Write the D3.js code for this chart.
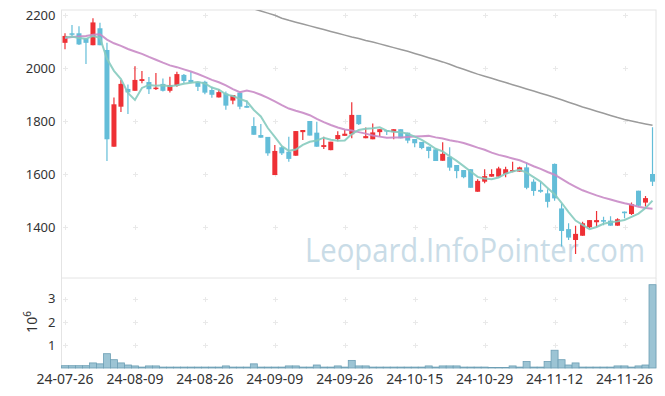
<!DOCTYPE html>
<html>
<head>
<meta charset="utf-8">
<script src="https://cdn.jsdelivr.net/npm/d3@7"></script>
<style>
body { margin: 0; background: #fff; }
svg { display: block; font-family: "Noto Sans", sans-serif; }
</style>
</head>
<body>
<svg id="chart" width="665" height="396"></svg>
<script>
const dates = [
  '24-07-26','24-07-29','24-07-30','24-07-31','24-08-01','24-08-02','24-08-05','24-08-06','24-08-07','24-08-08',
  '24-08-09','24-08-12','24-08-13','24-08-14','24-08-16','24-08-19','24-08-20','24-08-21','24-08-22','24-08-23',
  '24-08-26','24-08-27','24-08-28','24-08-29','24-08-30','24-09-02','24-09-03','24-09-04','24-09-05','24-09-06',
  '24-09-09','24-09-10','24-09-11','24-09-12','24-09-13','24-09-19','24-09-20','24-09-23','24-09-24','24-09-25',
  '24-09-26','24-09-27','24-09-30','24-10-02','24-10-04','24-10-07','24-10-08','24-10-10','24-10-11','24-10-14',
  '24-10-15','24-10-16','24-10-17','24-10-18','24-10-21','24-10-22','24-10-23','24-10-24','24-10-25','24-10-28',
  '24-10-29','24-10-30','24-10-31','24-11-01','24-11-04','24-11-05','24-11-06','24-11-07','24-11-08','24-11-11',
  '24-11-12','24-11-13','24-11-14','24-11-15','24-11-18','24-11-19','24-11-20','24-11-21','24-11-22','24-11-25',
  '24-11-26','24-11-27','24-11-28','24-11-29','24-12-02'
];
const open = [
  2095,2131,2131,2112,2086,2150,2068,1703,1854,1921, 1914,1951,1947,1922,1940,1914,1933,1974,1955,1948,
  1948,1917,1889,1904,1877,1907,1857,1781,1747,1740, 1596,1701,1684,1669,1758,1800,1756,1702,1690,1732,
  1744,1750,1823,1735,1731,1758,1766,1758,1769,1756, 1732,1721,1703,1693,1650,1665,1634,1615,1618,1533,
  1571,1590,1590,1600,1609,1609,1625,1571,1540,1527, 1638,1470,1392,1351,1367,1399,1418,1426,1424,1405,
  1458,1449,1537,1492,1600
];
const high = [
  2131,2162,2158,2112,2188,2171,2095,1889,1955,1938, 2007,1989,1966,1981,1960,1967,1986,1977,1986,1948,
  1952,1929,1920,1911,1898,1907,1877,1814,1789,1740, 1709,1706,1741,1762,1766,1800,1797,1741,1722,1761,
  1766,1871,1823,1775,1791,1769,1766,1769,1769,1756, 1732,1721,1703,1697,1720,1701,1634,1615,1618,1580,
  1618,1618,1627,1627,1646,1627,1643,1580,1571,1542, 1640,1489,1414,1405,1420,1426,1460,1439,1441,1433,
  1458,1492,1537,1517,1776
];
const low = [
  2071,2118,2087,2015,2086,2086,1649,1703,1834,1826, 1914,1942,1902,1917,1911,1908,1929,1942,1942,1913,
  1901,1888,1889,1842,1863,1844,1850,1748,1737,1669, 1596,1672,1646,1669,1728,1745,1703,1694,1690,1724,
  1744,1735,1785,1735,1731,1741,1747,1731,1735,1716, 1701,1693,1659,1649,1650,1612,1584,1584,1548,1533,
  1565,1590,1590,1588,1607,1609,1542,1518,1529,1474, 1499,1326,1351,1298,1367,1395,1399,1407,1405,1405,
  1433,1445,1477,1477,1555
];
const close = [
  2121,2128,2089,2095,2172,2086,1731,1863,1940,1908, 1955,1958,1920,1926,1914,1936,1977,1951,1945,1929,
  1907,1899,1909,1858,1898,1854,1850,1748,1737,1678, 1687,1678,1657,1762,1766,1745,1703,1709,1722,1747,
  1752,1823,1788,1743,1757,1769,1760,1769,1735,1726, 1716,1698,1687,1649,1676,1624,1611,1588,1548,1574,
  1592,1600,1621,1618,1615,1625,1548,1536,1533,1495, 1508,1385,1360,1374,1414,1426,1426,1420,1405,1429,
  1452,1486,1480,1509,1571
];
// closes before the first day, only used for the averages
const prevClose = [2050,2060,2055,2065,2060,2130,2140,2135,2145,2140,2138,2150,2140,2138,2142,2110,2118,2108,2118];
// volume, x 10^6
const volume = [
  0.1,0.1,0.1,0.1,0.22,0.18,0.62,0.36,0.22,0.13, 0.09,0.04,0.09,0.09,0.04,0.04,0.04,0.04,0.04,0.04,
  0.04,0.04,0.04,0.09,0.04,0.04,0.04,0.18,0.04,0.04, 0.04,0.04,0.09,0.09,0.04,0.04,0.13,0.04,0.04,0.09,
  0.04,0.33,0.09,0.09,0.04,0.04,0.04,0.04,0.04,0.04, 0.04,0.04,0.09,0.04,0.09,0.09,0.09,0.04,0.04,0.04,
  0.04,0.02,0.02,0.02,0.09,0.04,0.28,0.04,0.04,0.28, 0.77,0.36,0.13,0.22,0.04,0.04,0.04,0.04,0.04,0.09,
  0.09,0.04,0.09,0.13,3.61
];
const ma120Start = 27;
const ma120 = [
  2223,2215,2207,2199,2188,2180,2173,2166,2159,2152,2145,2138,2131,2124,2117,2111,2104,2098,2091,2084,
  2077,2070,2063,2055,2047,2039,2031,2023,2014,2004,1995,1986,1977,1969,1961,1953,1945,1937,1929,1921,
  1913,1905,1897,1889,1880,1871,1862,1853,1845,1837,1829,1821,1813,1806,1800,1794,1789,1784
];
const priceTicks = [1400, 1600, 1800, 2000, 2200];
const volumeTicks = [1, 2, 3];
const dateTicks = dates.filter((d, i) => i % 10 === 0);

const upColor = '#ee3035';
const downColor = '#63bdd8';

const svg = d3.select('#chart');
const plotLeft = 61.5, plotRight = 656, plotTop = 10, plotMid = 278, plotBottom = 368;

const x = d3.scaleBand().domain(dates).range([plotLeft, plotRight]);
const y = d3.scaleLinear().domain([1207.5, 2218.9]).range([plotMid, plotTop]);
const yv = d3.scaleLinear().domain([0, 3.9]).range([plotBottom, plotMid]);
const cx = d => x(d) + x.bandwidth() / 2;

function movingAverage(n) {
  const all = prevClose.concat(close);
  const k = prevClose.length;
  return close.map((c, i) => d3.mean(all.slice(i + k - n + 1, i + k + 1)));
}

svg.append('clipPath').attr('id', 'priceClip')
  .append('rect').attr('x', plotLeft).attr('y', plotTop).attr('width', plotRight - plotLeft).attr('height', plotMid - plotTop);

//watermark
svg.append('text')
  .attr('x', 305).attr('y', 262)
  .attr('textLength', 340).attr('lengthAdjust', 'spacingAndGlyphs')
  .style('font-family', '"Open Sans", sans-serif').style('font-size', '33px')
  .attr('fill', '#c9dce7')
  .text('Leopard.InfoPointer.com');

//panel frames
const frame = svg.append('g').attr('fill', 'none').attr('stroke', '#e4e4e4');
frame.append('rect').attr('x', plotLeft).attr('y', plotTop).attr('width', plotRight - plotLeft).attr('height', plotMid - plotTop);
frame.append('line').attr('x1', plotLeft).attr('x2', plotLeft).attr('y1', plotMid).attr('y2', plotBottom);
frame.append('line').attr('x1', plotRight).attr('x2', plotRight).attr('y1', plotMid).attr('y2', plotBottom);

//grid crosses
function crosses(yScale, ticks) {
  const g = svg.append('g').attr('stroke', '#e9e9e9').attr('stroke-width', 1);
  dateTicks.forEach(d => {
    ticks.forEach(t => {
      const px = Math.round(cx(d)) + 0.5, py = Math.round(yScale(t)) + 0.5;
      g.append('line').attr('x1', px - 2.5).attr('x2', px + 2.5).attr('y1', py).attr('y2', py);
      g.append('line').attr('x1', px).attr('x2', px).attr('y1', py - 2.5).attr('y2', py + 2.5);
    });
  });
}
crosses(y, priceTicks);
crosses(yv, volumeTicks);

//volume
svg.append('g').selectAll('rect').data(volume).join('rect')
  .attr('x', (v, i) => x(dates[i]))
  .attr('width', x.bandwidth())
  .attr('y', v => yv(v))
  .attr('height', v => plotBottom - yv(v))
  .attr('fill', '#9cc4d4')
  .attr('stroke', '#6d9fb5')
  .attr('stroke-width', 0.8);

//candles
const candles = svg.append('g').attr('clip-path', 'url(#priceClip)');
dates.forEach((d, i) => {
  const col = close[i] >= open[i] ? upColor : downColor;
  candles.append('line')
    .attr('x1', cx(d)).attr('x2', cx(d))
    .attr('y1', y(high[i])).attr('y2', y(low[i]))
    .attr('stroke', col).attr('stroke-width', 1.2);
  const y0 = y(Math.max(open[i], close[i]));
  const y1 = y(Math.min(open[i], close[i]));
  candles.append('rect')
    .attr('x', cx(d) - 2.5).attr('width', 5)
    .attr('y', y0).attr('height', Math.max(1.5, y1 - y0))
    .attr('fill', col);
});

//averages
const lines = svg.append('g').attr('clip-path', 'url(#priceClip)').attr('fill', 'none');
const line = d3.line().x(d => cx(d[0])).y(d => y(d[1]));
lines.append('path')
  .attr('d', line(ma120.map((v, i) => [dates[i + ma120Start], v])))
  .attr('stroke', '#9b9b9b').attr('stroke-width', 1.5);
lines.append('path')
  .attr('d', line(movingAverage(20).map((v, i) => [dates[i], v])))
  .attr('stroke', '#c98bc6').attr('stroke-width', 2).attr('stroke-opacity', 0.9);
lines.append('path')
  .attr('d', line(movingAverage(5).map((v, i) => [dates[i], v])))
  .attr('stroke', '#86cbbf').attr('stroke-width', 2).attr('stroke-opacity', 0.9);

//axes
function styleAxis(g, size) {
  g.select('.domain').remove();
  g.selectAll('text').attr('fill', '#333').style('font-size', size).style('font-family', '"Noto Sans", sans-serif');
}
svg.append('g').attr('transform', 'translate(' + plotLeft + ',0)')
  .call(d3.axisLeft(y).tickValues(priceTicks).tickSize(0).tickPadding(6).tickFormat(d3.format('d')))
  .call(g => styleAxis(g, '13px'));
svg.append('g').attr('transform', 'translate(' + plotLeft + ',0)')
  .call(d3.axisLeft(yv).tickValues(volumeTicks).tickSize(0).tickPadding(6).tickFormat(d3.format('d')))
  .call(g => styleAxis(g, '13px'));
svg.append('g').attr('transform', 'translate(0,' + plotBottom + ')')
  .call(d3.axisBottom(x).tickValues(dateTicks).tickSize(0).tickPadding(6))
  .call(g => styleAxis(g, '14px'));

//volume unit
const unit = svg.append('text')
  .attr('transform', 'translate(37,322) rotate(-90)')
  .attr('text-anchor', 'middle')
  .attr('fill', '#333')
  .style('font-size', '14px');
unit.append('tspan').text('10');
unit.append('tspan').attr('dy', -6).style('font-size', '10px').text('6');
</script>
</body>
</html>
